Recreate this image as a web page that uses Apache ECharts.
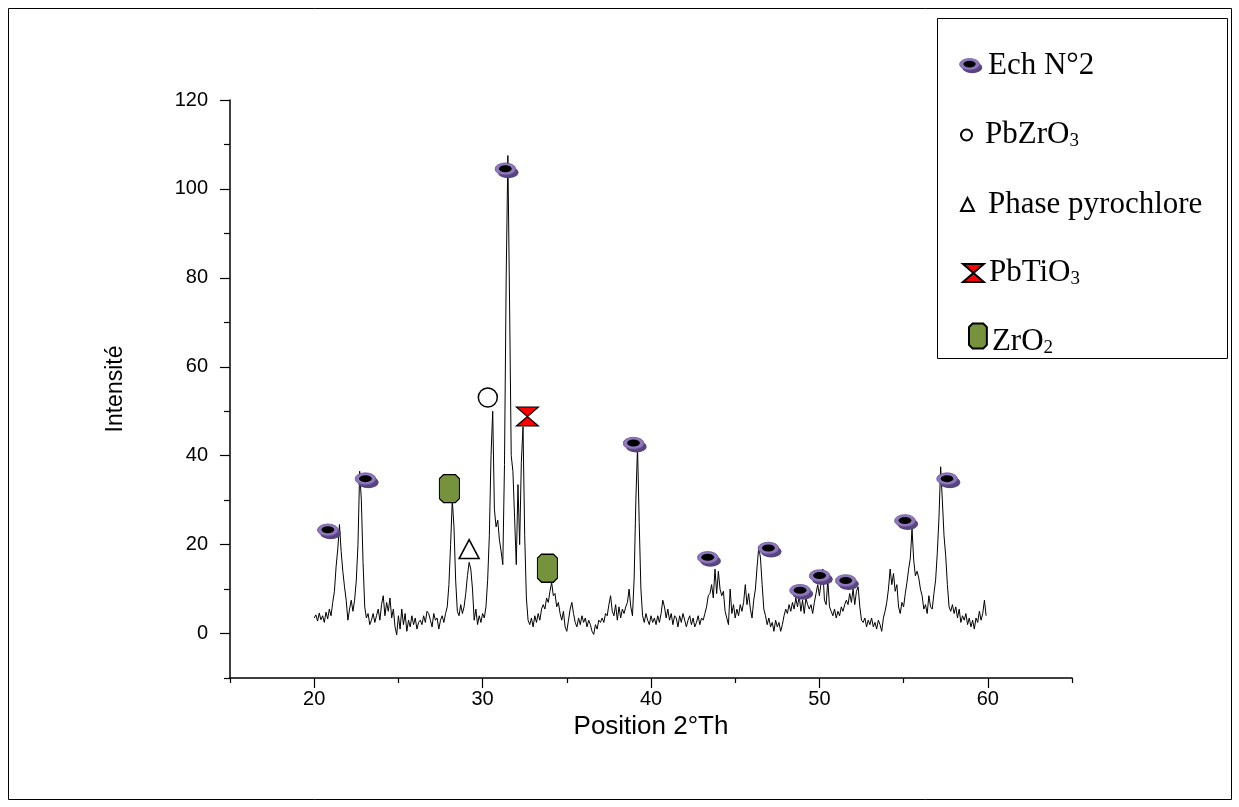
<!DOCTYPE html>
<html><head><meta charset="utf-8">
<script src="https://cdn.jsdelivr.net/npm/echarts@6/dist/echarts.min.js"></script>
<style>html,body{margin:0;padding:0;background:#fff}#c{width:1239px;height:807px}</style>
</head><body><div id="c"></div>
<script>
// ---- data ----
const twoThetaStart = 20.0;
const twoThetaStep = 0.1;
const intensity = [
3.5,4.2,2.8,4.6,3.1,4.0,2.5,4.8,3.3,5.5,
4.0,7.0,9.5,15.0,19.0,24.5,18.5,14.0,10.5,7.5,
3.0,5.5,7.5,5.0,7.5,12.0,20.0,36.5,30.0,16.0,
6.0,3.5,4.5,2.0,3.0,4.5,2.5,4.0,5.5,3.0,
6.5,8.5,4.0,7.0,5.0,8.0,3.5,5.5,1.5,-0.3,
4.0,1.0,5.5,2.0,4.5,0.5,3.0,1.5,4.0,2.0,
3.5,1.0,2.5,3.0,2.0,4.0,2.5,5.0,4.5,3.0,
1.5,4.5,3.0,3.5,1.0,3.0,4.0,2.5,4.5,6.0,
11.0,20.0,30.0,24.0,12.0,5.0,4.0,6.5,4.5,6.0,
9.0,13.0,16.0,14.5,10.0,3.0,5.5,2.0,4.0,2.5,
4.5,3.5,6.0,12.0,22.0,40.0,50.0,28.0,24.0,25.5,
21.0,18.5,15.5,38.0,80.0,107.5,75.0,40.0,36.5,26.0,
15.5,33.5,20.0,38.5,46.5,22.0,8.0,3.0,2.0,3.5,
1.5,4.0,2.5,4.5,3.0,5.5,6.5,5.5,8.0,7.0,
9.5,11.5,8.5,9.0,6.0,7.0,4.5,3.0,5.0,1.5,
0.5,3.0,5.5,7.0,4.5,2.5,1.5,3.5,2.0,4.0,
2.5,3.5,1.5,3.0,2.0,0.5,-0.2,2.0,1.0,3.0,
2.5,3.5,2.5,4.5,4.0,6.5,8.5,5.0,4.0,6.5,
3.0,6.0,3.5,5.5,4.5,6.0,7.0,10.0,6.0,4.0,
12.5,30.0,42.0,25.0,10.0,4.0,2.5,4.5,3.0,2.0,
4.0,2.5,3.5,2.0,4.0,2.5,4.5,7.5,6.0,3.5,
5.5,3.0,4.5,2.0,4.0,3.5,1.5,4.0,2.5,4.5,
3.0,1.5,3.0,4.0,2.0,3.5,1.5,2.5,4.0,2.0,
3.5,3.0,4.5,6.0,8.5,9.0,11.0,8.0,14.5,9.0,
14.0,10.0,8.5,9.5,5.0,3.5,2.0,10.0,4.5,6.5,
3.5,5.5,4.0,6.5,5.0,7.0,11.0,6.5,9.0,5.5,
3.5,7.5,10.0,15.0,19.5,17.0,11.0,5.5,4.0,2.0,
3.5,1.5,2.5,0.5,3.0,1.5,2.5,0.5,2.0,4.0,
5.5,4.5,6.5,5.0,7.0,5.5,8.0,6.0,8.5,5.0,
7.5,4.5,8.0,6.5,5.5,6.5,4.5,7.0,9.0,11.0,
8.5,11.5,14.5,7.5,6.5,12.0,6.0,5.0,4.0,5.5,
3.5,5.0,4.0,6.0,5.0,6.5,7.5,6.5,9.0,7.0,
10.0,6.5,9.5,10.5,6.0,3.0,2.5,3.5,1.5,3.0,
2.0,3.5,1.5,2.5,1.0,3.0,2.0,0.5,3.5,5.0,
7.0,10.0,14.5,11.0,13.5,9.5,11.0,6.0,4.5,7.0,
6.0,9.0,11.5,14.5,17.0,23.5,16.5,13.0,14.0,12.5,
10.0,8.5,5.5,6.5,4.5,8.5,6.0,5.5,9.0,12.0,
18.0,26.0,37.5,30.0,22.0,17.5,11.0,6.0,5.0,6.5,
4.5,6.0,3.5,5.5,2.5,4.0,3.0,4.5,2.0,3.5,
1.5,3.0,1.0,3.5,2.5,5.0,3.0,4.5,7.5,4.0
];
const xTickLabels = [20, 30, 40, 50, 60];
const xMinorTicks = [15, 25, 35, 45, 55, 65];
const yTickLabels = [0, 20, 40, 60, 80, 100, 120];
const yMinorTicks = [-10, 10, 30, 50, 70, 90, 110];

const echPeaks  = [[20.9,23.0],[23.13,34.5],[31.44,104.2],[39.05,42.5],[43.46,16.8],[47.06,18.9],[48.94,9.4],[50.1,12.7],[51.65,11.6],[55.17,25.1],[57.67,34.5]];
const pbzrPeaks = [[30.31,53.1]];
const pyroPeaks = [[29.2,19.0]];
const pbtiPeaks = [[32.66,48.8]];
const zro2Peaks = [[28.03,32.6],[33.85,14.7]];

// ---- build ----
const xrd = intensity.map((v, i) => [+(twoThetaStart + i * twoThetaStep).toFixed(2), v]);

const echSvg = "<svg xmlns='http://www.w3.org/2000/svg' width='25' height='17' viewBox='0 0 25 17'>" +
  "<ellipse cx='13.8' cy='10.6' rx='10.4' ry='5.9' fill='#57457f'/>" +
  "<ellipse cx='11' cy='7.2' rx='10.4' ry='6' fill='#8f77bb' stroke='#6c5699' stroke-width='0.8'/>" +
  "<ellipse cx='11' cy='7' rx='6.4' ry='3.5' fill='#000'/></svg>";
const echSymbol = 'image://data:image/svg+xml;charset=utf-8,' + encodeURIComponent(echSvg);
const bowtie = 'path://M0,0L22,0L0,19L22,19Z';
const octagon = 'path://M4,0L16,0L20,4L20,24L16,28L4,28L0,24L0,4Z';

const serif = 'Liberation Serif';
const sans = 'Liberation Sans';

function mkLegend(name, label, left, cy, w, h, padL, padT) {
  return {
    show: true, data: [name], orient: 'vertical', left: left, top: cy - 16 - padT / 2,
    padding: 0, itemWidth: w, itemHeight: h, itemGap: 0, selectedMode: false,
    formatter: () => label,
    itemStyle: { opacity: 1 },
    textStyle: {
      color: '#000',
      rich: {
        t: { fontFamily: serif, fontSize: 31, color: '#000', lineHeight: 32, padding: [padT, 0, 0, padL] },
        s: { fontFamily: serif, fontSize: 19, color: '#000', lineHeight: 20, verticalAlign: 'middle', padding: [padT + 13, 0, 0, 0] }
      }
    }
  };
}

const chart = echarts.init(document.getElementById('c'), null, { renderer: 'canvas' });
chart.setOption({
  animation: false,
  backgroundColor: '#fff',
  grid: { left: 230, right: 167, top: 100, bottom: 129, containLabel: false },
  graphic: [
    { type: 'rect', shape: { x: 8.5, y: 8.5, width: 1223, height: 791 }, style: { fill: 'none', stroke: '#000', lineWidth: 1 }, z: 0 },
    { type: 'rect', shape: { x: 937.5, y: 18.5, width: 290, height: 340 }, style: { fill: 'none', stroke: '#000', lineWidth: 1 }, z: 0 }
  ],
  legend: [
    mkLegend('Ech N°2', '{t|Ech N°2}', 959, 66, 24, 17, 0, 0),
    mkLegend('PbZrO3', '{t|PbZrO}{s|3}', 960, 135, 11, 11, 8, 0),
    mkLegend('Phase pyrochlore', '{t|Phase pyrochlore}', 960, 205, 13, 13, 9, 0),
    mkLegend('PbTiO3', '{t|PbTiO}{s|3}', 962, 273, 21, 18, 0, 0),
    mkLegend('ZrO2', '{t|ZrO}{s|2}', 968, 336, 18, 25, 0, 12)
  ],
  xAxis: [
    {
      type: 'value', min: 15, max: 65, position: 'bottom',
      name: 'Position 2°Th', nameLocation: 'middle', nameGap: 27,
      nameTextStyle: { fontFamily: sans, fontSize: 26, color: '#000' },
      axisLine: { show: true, onZero: false, lineStyle: { color: '#000', width: 1.5 } },
      axisTick: { show: true, inside: false, length: 10, customValues: xTickLabels, lineStyle: { color: '#000', width: 1.2 } },
      axisLabel: { customValues: xTickLabels, margin: 11, fontFamily: sans, fontSize: 20, color: '#000' },
      splitLine: { show: false }
    },
    {
      type: 'value', min: 15, max: 65, position: 'bottom',
      axisLine: { show: false, onZero: false },
      axisTick: { show: true, inside: false, length: 5, customValues: xMinorTicks, lineStyle: { color: '#000', width: 1.2 } },
      axisLabel: { show: false }, splitLine: { show: false }
    }
  ],
  yAxis: [
    {
      type: 'value', min: -10, max: 120, position: 'left',
      name: 'Intensité', nameLocation: 'middle', nameGap: 103,
      nameTextStyle: { fontFamily: sans, fontSize: 23, color: '#000' },
      axisLine: { show: true, onZero: false, lineStyle: { color: '#000', width: 1.5 } },
      axisTick: { show: true, inside: false, length: 10, customValues: yTickLabels, lineStyle: { color: '#000', width: 1.2 } },
      axisLabel: { customValues: yTickLabels, margin: 22, fontFamily: sans, fontSize: 20, color: '#000' },
      splitLine: { show: false }
    },
    {
      type: 'value', min: -10, max: 120, position: 'left',
      axisLine: { show: false, onZero: false },
      axisTick: { show: true, inside: false, length: 6, customValues: yMinorTicks, lineStyle: { color: '#000', width: 1.2 } },
      axisLabel: { show: false }, splitLine: { show: false }
    }
  ],
  series: [
    { type: 'line', name: 'pattern', data: xrd, xAxisIndex: 0, yAxisIndex: 0, symbol: 'none', showSymbol: false,
      lineStyle: { color: '#000', width: 1 }, z: 2, silent: true },
    { type: 'scatter', name: 'Ech N°2', data: echPeaks, symbol: echSymbol, symbolSize: [25, 17], z: 5,
      itemStyle: { opacity: 1 } },
    { type: 'scatter', name: 'PbZrO3', data: pbzrPeaks, symbol: 'circle', symbolSize: 19, z: 5,
      itemStyle: { color: '#fff', borderColor: '#000', borderWidth: 1.5, opacity: 1 } },
    { type: 'scatter', name: 'Phase pyrochlore', data: pyroPeaks, symbol: 'triangle', symbolSize: [20, 19], z: 5,
      itemStyle: { color: '#fff', borderColor: '#000', borderWidth: 1.5, opacity: 1 } },
    { type: 'scatter', name: 'PbTiO3', data: pbtiPeaks, symbol: bowtie, symbolSize: [22, 19], z: 5,
      itemStyle: { color: '#ff0000', borderColor: '#000', borderWidth: 1.2, opacity: 1 } },
    { type: 'scatter', name: 'ZrO2', data: zro2Peaks, symbol: octagon, symbolSize: [20, 28], z: 5,
      itemStyle: { color: '#76923c', borderColor: '#000', borderWidth: 1.2, opacity: 1 } }
  ]
});
</script></body></html>
